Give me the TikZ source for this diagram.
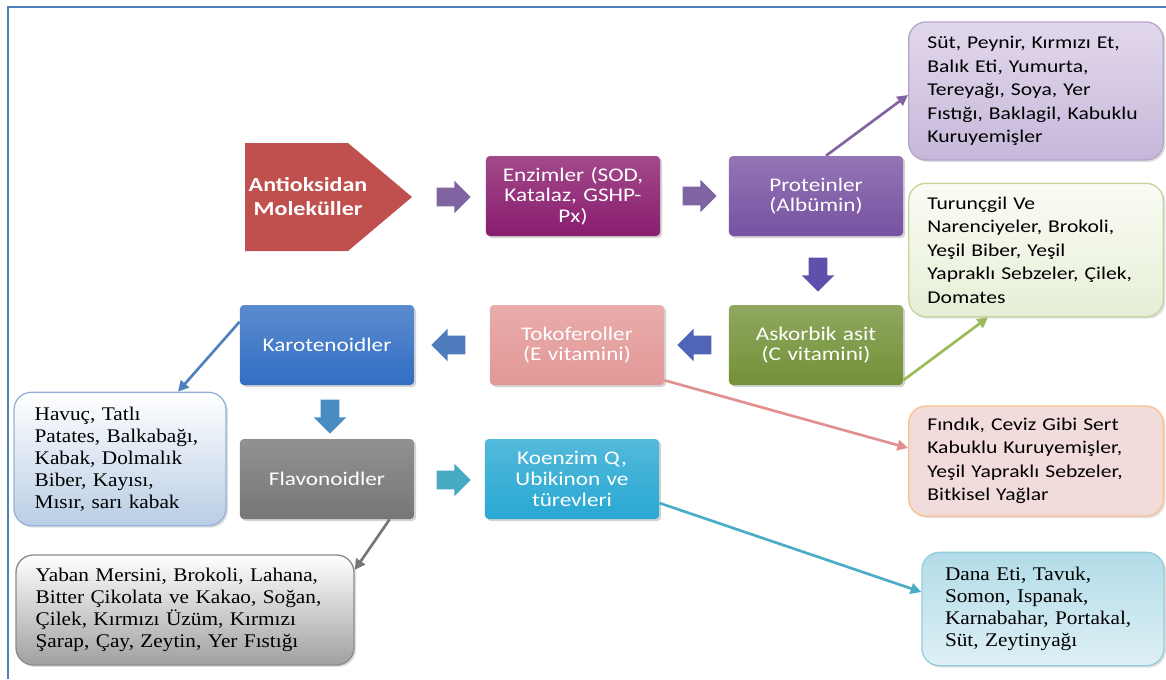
\documentclass[tikz,border=0pt]{standalone}
\usepackage{fontspec}
\setmainfont[FakeStretch=1.1]{Liberation Serif}
\newfontfamily\calfont[FakeStretch=1.2]{Carlito}
\usetikzlibrary{arrows.meta,shapes.arrows,shadows}

\definecolor{frameblue}{RGB}{79,129,189}
\definecolor{antired}{RGB}{192,80,77}
\definecolor{enzc}{RGB}{138,28,110}
\definecolor{protc}{RGB}{120,82,162}
\definecolor{askc}{RGB}{115,145,55}
\definecolor{tokoc}{RGB}{226,152,150}
\definecolor{karotc}{RGB}{50,110,195}
\definecolor{flavc}{RGB}{118,118,118}
\definecolor{koenc}{RGB}{40,168,210}
\definecolor{arrpurple}{RGB}{128,100,162}
\definecolor{arrviolet}{RGB}{95,80,172}
\definecolor{arrblue}{RGB}{80,100,184}
\definecolor{arrsteel}{RGB}{78,124,190}
\definecolor{arrsky}{RGB}{72,140,194}
\definecolor{arrcyan}{RGB}{70,170,196}
\definecolor{lineteal}{RGB}{75,172,198}
\definecolor{linepink}{RGB}{226,144,143}
\definecolor{linegreen}{RGB}{155,187,89}

\tikzset{
  mainbox/.style={rounded corners=3pt, top color=#1!80!white, bottom color=#1,
    minimum width=130.5pt, minimum height=60pt, text width=124pt, align=center,
    text=white, font=\calfont\fontsize{14.5}{15.5}\selectfont,
    drop shadow={opacity=0.35, shadow xshift=1.5pt, shadow yshift=-1.5pt}},
  blockarr/.style={single arrow, draw=none, fill=#1, minimum height=25.5pt,
    inner xsep=0pt, inner ysep=6.75pt, single arrow head extend=5.25pt,
    text height=0pt, text depth=0pt},
  sidebox/.style={rounded corners=13pt, line width=1pt, align=left,
    drop shadow={opacity=0.25, shadow xshift=1.5pt, shadow yshift=-1.5pt}},
  sansbox/.style={sidebox, font=\calfont\fontsize{13.5}{17.6}\selectfont},
  serifbox/.style={sidebox, font=\fontsize{14.5}{16.5}\selectfont},
  thinarr/.style={draw=#1, line width=2pt, -{Triangle[length=8pt,width=8pt]}}
}

\begin{document}
\begin{tikzpicture}[x=0.75pt,y=-0.75pt]
  \useasboundingbox (0,0) rectangle (1166,679);

  % frame
  \draw[frameblue, line width=1.5pt] (8,679) -- (8,7) -- (1166,7);

  % start shape
  \coordinate (A1) at (245,143);
  \coordinate (A2) at (348,143);
  \coordinate (A3) at (412,197);
  \coordinate (A4) at (348,251);
  \coordinate (A5) at (245,251);
  \fill[antired] (A1) -- (A2) -- (A3) -- (A4) -- (A5) -- cycle;
  \node[text=white, align=center, font=\calfont\bfseries\fontsize{15}{18}\selectfont]
    (anti) at (308,197) {Antioksidan\\Moleküller};

  % main boxes
  \node[mainbox=enzc] (enz) at (573,196) {Enzimler (SOD,\\Katalaz, GSHP-\\Px)};
  \node[mainbox=protc] (prot) at (816,196) {Proteinler\\(Albümin)};
  \node[mainbox=askc] (ask) at (816,345) {Askorbik asit\\(C vitamini)};
  \node[mainbox=tokoc] (toko) at (577,345) {Tokoferoller\\(E vitamini)};
  \node[mainbox=karotc] (karot) at (327,345) {Karotenoidler};
  \node[mainbox=flavc] (flav) at (327,479) {Flavonoidler};
  \node[mainbox=koenc] (koen) at (572,479) {Koenzim Q,\\Ubikinon ve\\türevleri};

  % block arrows
  \node[blockarr=arrpurple] (a1) at (449,197) {};
  \node[blockarr=arrpurple] (a2) at (695,196) {};
  \node[blockarr=arrviolet, rotate=-90] (a3) at (818,270) {};
  \node[blockarr=arrblue, rotate=180] (a4) at (699,345) {};
  \node[blockarr=arrsteel, rotate=180] (a5) at (453,345) {};
  \node[blockarr=arrsky, rotate=-90] (a6) at (330,412) {};
  \node[blockarr=arrcyan] (a7) at (449,480) {};

  % food boxes
  \node[sansbox, draw={rgb,255:red,180;green,165;blue,200},
    top color={rgb,255:red,226;green,216;blue,236}, bottom color={rgb,255:red,198;green,184;blue,218},
    minimum width=191pt, minimum height=103.5pt, text width=163pt]
    (purp) at (1036,91) {Süt, Peynir, Kırmızı Et,\\Balık Eti, Yumurta,\\Tereyağı, Soya, Yer\\Fıstığı, Baklagil, Kabuklu\\Kuruyemişler};
  \node[sansbox, draw={rgb,255:red,195;green,214;blue,155},
    top color={rgb,255:red,250;green,252;blue,245}, bottom color={rgb,255:red,230;green,238;blue,214},
    minimum width=191pt, minimum height=100pt, text width=163pt]
    (grn) at (1036,250) {Turunçgil Ve\\Narenciyeler, Brokoli,\\Yeşil Biber, Yeşil\\Yapraklı Sebzeler, Çilek,\\Domates};
  \node[sansbox, draw={rgb,255:red,250;green,192;blue,144},
    fill={rgb,255:red,242;green,220;blue,219},
    minimum width=191pt, minimum height=82.5pt, text width=163pt]
    (pnk) at (1036,461) {Fındık, Ceviz Gibi Sert\\Kabuklu Kuruyemişler,\\Yeşil Yapraklı Sebzeler,\\Bitkisel Yağlar};
  \node[serifbox, draw={rgb,255:red,147;green,205;blue,221},
    top color={rgb,255:red,178;green,220;blue,232}, bottom color={rgb,255:red,222;green,240;blue,245},
    minimum width=181.5pt, minimum height=85pt, text width=147pt]
    (dana) at (1043,609) {Dana Eti, Tavuk,\\Somon, Ispanak,\\Karnabahar, Portakal,\\Süt, Zeytinyağı};
  \node[serifbox, draw={rgb,255:red,149;green,179;blue,215},
    top color=white, bottom color={rgb,255:red,185;green,205;blue,229},
    minimum width=159pt, minimum height=100pt, text width=128pt]
    (havuc) at (120,459) {Havuç, Tatlı\\Patates, Balkabağı,\\Kabak, Dolmalık\\Biber, Kayısı,\\Mısır, sarı kabak};
  \node[serifbox, draw={rgb,255:red,140;green,140;blue,140},
    top color=white, bottom color={rgb,255:red,160;green,160;blue,160},
    minimum width=253.5pt, minimum height=82.5pt, text width=224pt]
    (yaban) at (185,610) {Yaban Mersini, Brokoli, Lahana,\\Bitter Çikolata ve Kakao, Soğan,\\Çilek, Kırmızı Üzüm, Kırmızı\\Şarap, Çay, Zeytin, Yer Fıstığı};

  % thin arrows
  \draw[thinarr=arrpurple] ([xshift=7.5pt]prot.north) -- ([yshift=-3pt]purp.west);
  \draw[thinarr=linegreen] ([yshift=3.75pt]ask.south east) -- ([xshift=-36pt]grn.south);
  \draw[thinarr=linepink] ([yshift=3.75pt]toko.south east) -- ([yshift=9.75pt]pnk.west);
  \draw[thinarr=frameblue] ([yshift=-12.75pt]karot.north west) -- ([xshift=43.5pt]havuc.north);
  \draw[thinarr=flavc] ([xshift=47pt]flav.south) -- ([yshift=30pt]yaban.east);
  \draw[thinarr=lineteal] ([yshift=-18pt]koen.east) -- ([yshift=12.75pt]dana.west);
\end{tikzpicture}
\end{document}
